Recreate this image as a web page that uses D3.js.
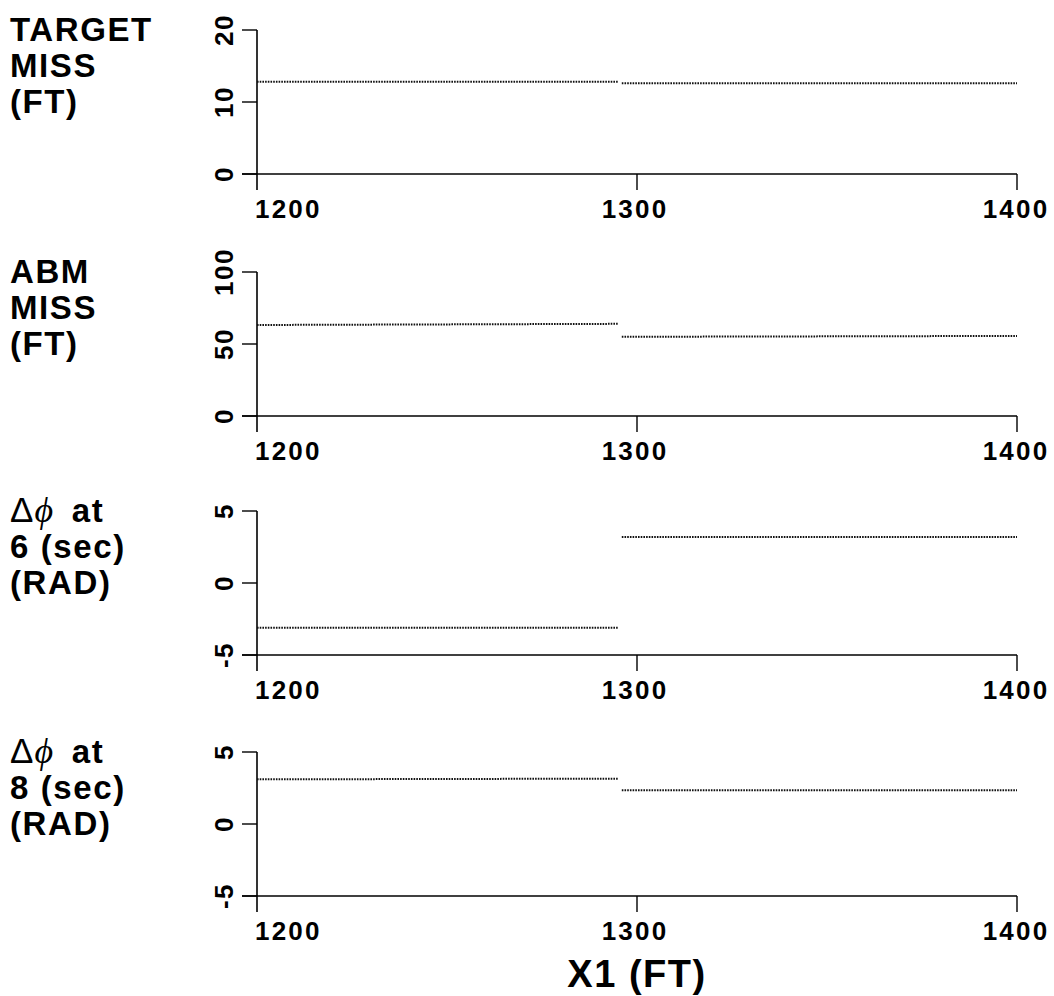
<!DOCTYPE html>
<html><head><meta charset="utf-8">
<script src="https://cdn.jsdelivr.net/npm/d3@7"></script>
<style>body{margin:0;background:#fff}svg{display:block}</style>
</head><body>
<script>
// ---- data ----
const xTicks = [1200, 1300, 1400];
const segmentX = [[1200, 1295], [1296, 1400]];
const targetMiss = [[12.8, 12.8], [12.6, 12.6]];
const abmMiss = [[63.2, 64.0], [55.0, 55.6]];
const dphi6 = [[-3.1, -3.1], [3.2, 3.2]];
const dphi8 = [[3.1, 3.15], [2.35, 2.35]];
const yTicksTarget = [0, 10, 20];
const yTicksAbm = [0, 50, 100];
const yTicksPhi = [-5, 0, 5];
const panelLabels = [
  [["TARGET"], ["MISS"], ["(FT)"]],
  [["ABM"], ["MISS"], ["(FT)"]],
  [["Δ", "ϕ", " at"], ["6 (sec)"], ["(RAD)"]],
  [["Δ", "ϕ", " at"], ["8 (sec)"], ["(RAD)"]]
];
const xTitle = "X1 (FT)";

const panels = [
  {values: targetMiss, ticks: yTicksTarget, label: panelLabels[0]},
  {values: abmMiss, ticks: yTicksAbm, label: panelLabels[1]},
  {values: dphi6, ticks: yTicksPhi, label: panelLabels[2]},
  {values: dphi8, ticks: yTicksPhi, label: panelLabels[3]}
];

const W = 1054, H = 996;
const font = "'Liberation Sans', Arial, Helvetica, sans-serif";
const svg = d3.select("body").append("svg").attr("width", W).attr("height", H);
const x = d3.scaleLinear().domain([1200, 1400]).range([257, 1017]);
const tops = [30, 272, 511, 752];
const ph = 144;

panels.forEach((p, i) => {
  const top = tops[i], bottom = top + ph;
  const dom = d3.extent(p.ticks);
  const y = d3.scaleLinear().domain(dom).range([bottom, top]);
  const g = svg.append("g");

  // y axis line (extends below x axis)
  g.append("line").attr("x1", x(1200)).attr("x2", x(1200))
    .attr("y1", y(dom[1])).attr("y2", bottom + 16)
    .attr("stroke", "#000").attr("stroke-width", 1.6);
  // x axis line
  g.append("line").attr("x1", 242).attr("x2", x(1400))
    .attr("y1", bottom).attr("y2", bottom)
    .attr("stroke", "#000").attr("stroke-width", 1.5);
  // y ticks
  g.selectAll(".yt").data(p.ticks).enter().append("line")
    .attr("x1", 242).attr("x2", x(1200))
    .attr("y1", d => y(d)).attr("y2", d => y(d))
    .attr("stroke", "#000").attr("stroke-width", 1.4);
  g.selectAll(".yl").data(p.ticks).enter().append("text")
    .attr("transform", d => `translate(233,${y(d)}) rotate(-90)`)
    .attr("text-anchor", "middle")
    .attr("font-family", font).attr("font-weight", "bold").attr("font-size", 26)
    .attr("letter-spacing", 1.5)
    .text(d => d);
  // x ticks
  g.selectAll(".xt").data(xTicks.slice(1)).enter().append("line")
    .attr("x1", d => x(d)).attr("x2", d => x(d))
    .attr("y1", bottom).attr("y2", bottom + 16)
    .attr("stroke", "#000").attr("stroke-width", 1.4);
  g.selectAll(".xl").data(xTicks).enter().append("text")
    .attr("x", (d, j) => j === 0 ? x(d) - 2 : x(d) + (j === 2 ? -1 : -2))
    .attr("y", bottom + 44)
    .attr("text-anchor", (d, j) => j === 0 ? "start" : "middle")
    .attr("font-family", font).attr("font-weight", "bold").attr("font-size", 26)
    .attr("letter-spacing", 2.2)
    .text(d => d);

  // data (dotted lines)
  const line = d3.line().x(d => x(d[0])).y(d => y(d[1]));
  p.values.forEach((vals, k) => {
    const pts = segmentX[k].map((xv, m) => [xv, vals[m]]);
    g.append("path").attr("d", line(pts)).attr("fill", "none")
      .attr("stroke", "#111").attr("stroke-width", 2)
      .attr("stroke-dasharray", "1.6,1.1");
  });

  // panel label (one text per line)
  p.label.forEach((parts, li) => {
    const baseY = top + 11 + li * 36;
    const lab = g.append("text").attr("x", 10).attr("y", baseY)
      .attr("font-family", font).attr("font-size", 33).attr("letter-spacing", 1.6);
    parts.forEach((s) => {
      const t = lab.append("tspan").text(s);
      if (s === "Δ") {
        t.attr("font-weight", "normal").attr("letter-spacing", 1).attr("font-size", 35);
      } else if (s === "ϕ") {
        t.attr("font-weight", "normal").attr("font-family", "'Liberation Serif', serif")
          .attr("font-style", "italic").attr("font-size", 36).attr("letter-spacing", 0);
      } else if (s === " at") {
        t.attr("font-weight", "bold").attr("dx", 8);
      } else {
        t.attr("font-weight", "bold");
      }
    });
  });
});

svg.append("text").attr("x", x(1300)).attr("y", 987)
  .attr("text-anchor", "middle")
  .attr("font-family", font).attr("font-weight", "bold").attr("font-size", 38)
  .attr("letter-spacing", 1.5)
  .text(xTitle);
</script>
</body></html>
